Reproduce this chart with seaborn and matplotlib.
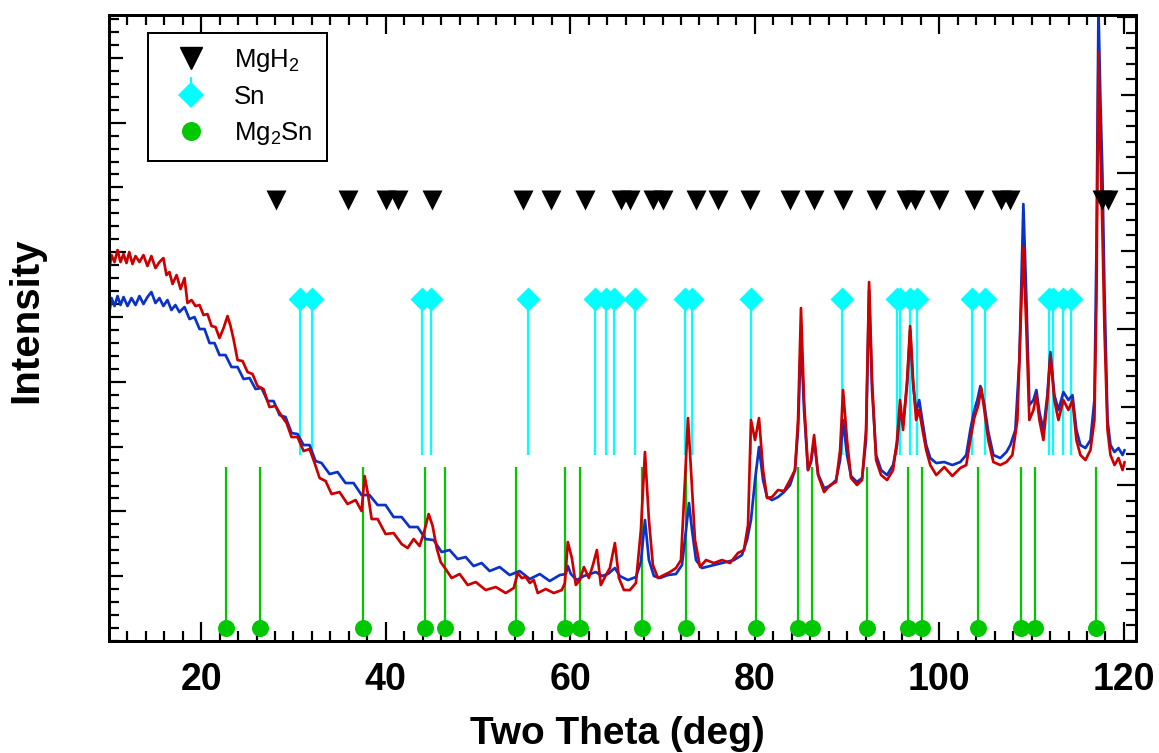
import numpy as np
import pandas as pd
import seaborn as sns
import matplotlib.pyplot as plt
from matplotlib.lines import Line2D

# patterns: two theta (deg) vs intensity (arb. units)
red_theta = [10.0, 10.28, 10.6, 10.93, 11.25, 11.58, 11.9, 12.2, 12.55, 12.88,
             13.31, 13.74, 14.17, 14.6, 15.04, 15.47, 15.9, 16.23, 16.56, 16.89,
             17.33, 17.76, 18.19, 18.51, 18.95, 19.38, 19.82, 20.25, 20.68, 21.12,
             21.55, 21.98, 22.42, 22.85, 23.18, 23.5, 23.94, 24.48, 25.02, 25.56,
             26.1, 26.75, 27.4, 28.05, 28.71, 29.25, 29.79, 30.44, 31.09, 31.74,
             32.29, 32.83, 33.48, 34.13, 34.99, 35.86, 36.73, 37.38, 37.71, 38.03,
             38.47, 39.12, 39.98, 40.85, 41.72, 42.37, 43.02, 43.67, 44.21, 44.65,
             45.08, 45.52, 45.95, 46.49, 47.14, 48.01, 48.88, 49.75, 50.83, 51.92,
             53.0, 53.87, 54.3, 54.74, 55.17, 55.61, 56.04, 56.47, 57.34, 58.21,
             59.08, 59.41, 59.73, 60.17, 60.6, 61.04, 61.47, 62.01, 62.45, 62.88,
             63.31, 63.86, 64.29, 64.83, 65.27, 65.81, 66.46, 67.11, 67.65, 68.09,
             68.52, 68.95, 69.5, 70.15, 70.8, 71.45, 71.99, 72.43, 72.75, 73.08,
             73.51, 74.06, 74.71, 75.57, 76.44, 77.31, 78.17, 78.82, 79.26, 79.58,
             80.02, 80.45, 80.89, 81.32, 81.86, 82.51, 83.16, 83.81, 84.35, 84.68,
             85.0, 85.33, 85.76, 86.09, 86.42, 86.85, 87.5, 88.15, 88.8, 89.24,
             89.56, 89.99, 90.42, 91.07, 91.62, 92.05, 92.38, 92.7, 93.14, 93.68,
             94.33, 94.98, 95.41, 95.74, 96.06, 96.5, 96.83, 97.15, 97.48, 97.81,
             98.14, 98.57, 99.01, 99.66, 100.53, 101.4, 102.26, 102.91, 103.35, 103.78,
             104.22, 104.54, 104.87, 105.3, 105.85, 106.6, 107.26, 107.91, 108.45, 108.78,
             109.1, 109.43, 109.75, 110.19, 110.51, 110.84, 111.27, 111.7, 112.03, 112.46,
             112.9, 113.44, 113.98, 114.42, 114.85, 115.28, 115.83, 116.37, 116.8, 117.02,
             117.24, 117.45, 117.67, 117.89, 118.22, 118.54, 118.98, 119.41, 119.85, 120.07]
red_counts = [369, 386, 379, 391, 379, 387, 378, 389, 377, 385,
              379, 386, 375, 385, 373, 379, 383, 366, 369, 357,
              366, 352, 363, 338, 341, 335, 336, 326, 327, 315,
              314, 303, 313, 325, 315, 302, 281, 280, 269, 267,
              255, 252, 234, 235, 225, 218, 204, 204, 190, 192,
              178, 163, 160, 147, 149, 137, 141, 130, 165, 149,
              122, 122, 107, 108, 97, 93, 102, 95, 111, 127,
              115, 93, 79, 72, 63, 67, 56, 59, 51, 54,
              48, 53, 68, 63, 64, 58, 61, 48, 52, 48,
              51, 58, 99, 83, 56, 61, 74, 63, 76, 91,
              56, 66, 73, 98, 63, 51, 51, 58, 111, 189,
              121, 76, 63, 66, 69, 73, 81, 161, 223, 171,
              101, 74, 81, 78, 81, 78, 88, 91, 116, 221,
              201, 223, 171, 143, 144, 151, 150, 161, 171, 221,
              333, 241, 171, 181, 206, 166, 149, 156, 159, 191,
              251, 201, 163, 156, 161, 211, 359, 261, 181, 166,
              161, 171, 201, 241, 211, 261, 315, 261, 221, 231,
              213, 191, 176, 166, 174, 165, 173, 176, 201, 223,
              236, 253, 231, 201, 179, 176, 179, 186, 221, 311,
              394, 311, 221, 231, 246, 221, 201, 241, 286, 241,
              221, 241, 231, 241, 201, 186, 181, 191, 221, 341,
              589, 491, 409, 311, 211, 186, 176, 183, 171, 179]

blue_theta = [10.0, 10.28, 10.6, 10.93, 11.25, 11.58, 12.01, 12.44, 12.88, 13.31,
              13.74, 14.17, 14.6, 15.04, 15.47, 15.9, 16.34, 16.77, 17.2, 17.64,
              18.19, 18.73, 19.27, 19.82, 20.36, 20.9, 21.44, 21.98, 22.63, 23.28,
              23.94, 24.59, 25.24, 25.89, 26.54, 27.19, 27.84, 28.49, 29.14, 29.79,
              30.44, 31.09, 31.74, 32.39, 33.04, 33.91, 34.78, 35.64, 36.51, 37.38,
              38.24, 39.12, 39.98, 40.85, 41.72, 42.59, 43.45, 44.32, 45.19, 46.05,
              46.92, 47.79, 48.66, 49.52, 50.39, 51.26, 52.34, 53.43, 54.51, 55.61,
              56.69, 57.77, 58.86, 59.51, 59.73, 60.06, 60.71, 61.47, 62.12, 62.77,
              63.42, 64.08, 64.83, 65.37, 66.24, 67.11, 67.65, 68.09, 68.52, 69.06,
              69.71, 70.58, 71.45, 72.1, 72.54, 72.86, 73.19, 73.62, 74.27, 75.14,
              76.0, 76.87, 77.74, 78.6, 79.15, 79.58, 80.02, 80.45, 80.89, 81.32,
              81.86, 82.51, 83.16, 83.81, 84.35, 84.68, 85.0, 85.33, 85.76, 86.09,
              86.42, 86.85, 87.5, 88.15, 88.8, 89.24, 89.56, 89.99, 90.42, 91.07,
              91.62, 92.05, 92.38, 92.7, 93.14, 93.68, 94.33, 94.98, 95.41, 95.74,
              96.06, 96.5, 96.83, 97.15, 97.48, 97.81, 98.14, 98.57, 99.01, 99.66,
              100.53, 101.4, 102.26, 102.91, 103.35, 103.78, 104.11, 104.44, 104.87, 105.3,
              105.85, 106.6, 107.26, 107.69, 108.23, 108.67, 109.1, 109.43, 109.75, 110.19,
              110.51, 110.84, 111.27, 111.7, 112.03, 112.46, 112.9, 113.44, 113.98, 114.42,
              114.85, 115.28, 115.83, 116.37, 116.8, 117.02, 117.24, 117.45, 117.67, 117.89,
              118.22, 118.54, 118.98, 119.41, 119.85, 120.07]
blue_counts = [326, 343, 335, 345, 336, 344, 335, 343, 336, 345,
               337, 344, 349, 338, 343, 335, 341, 331, 336, 329,
               334, 322, 324, 312, 312, 298, 298, 286, 286, 274,
               274, 262, 263, 252, 253, 240, 240, 226, 224, 208,
               207, 196, 196, 180, 178, 167, 169, 158, 158, 146,
               146, 136, 136, 124, 124, 114, 114, 102, 101, 89,
               91, 82, 84, 75, 78, 70, 74, 66, 70, 62,
               67, 60, 66, 67, 75, 67, 61, 65, 67, 69,
               65, 67, 73, 65, 61, 64, 79, 121, 81, 65,
               63, 66, 67, 76, 111, 138, 111, 81, 73, 75,
               77, 79, 81, 86, 101, 121, 161, 194, 161, 144,
               141, 144, 149, 156, 171, 211, 304, 231, 171, 179,
               201, 167, 153, 155, 161, 181, 221, 186, 165, 159,
               163, 201, 351, 251, 186, 171, 166, 176, 196, 231,
               216, 256, 311, 256, 229, 241, 221, 196, 183, 178,
               179, 176, 179, 186, 211, 231, 241, 255, 236, 209,
               186, 183, 189, 196, 211, 281, 437, 341, 236, 241,
               251, 229, 211, 246, 289, 246, 231, 249, 241, 246,
               211, 196, 193, 201, 241, 391, 633, 541, 466, 351,
               221, 196, 189, 193, 186, 191]

# reference reflections (deg)
mgh2_peaks = [28.06, 35.9, 39.98, 41.3, 45.05, 54.87, 57.95, 61.64, 65.54, 66.51,
              68.96, 70.05, 73.6, 76.06, 79.48, 83.86, 86.42, 89.56, 93.11, 96.36,
              97.41, 99.91, 103.77, 106.63, 107.64, 117.58, 118.23]
sn_peaks = [30.66, 32.04, 43.89, 44.94, 55.41, 62.64, 63.84, 64.7, 67.06, 72.48,
            73.24, 79.63, 89.48, 95.36, 95.71, 96.8, 97.52, 103.49, 104.93, 111.87,
            112.27, 113.42, 114.22]
mg2sn_peaks = [22.71, 26.32, 37.52, 44.29, 46.38, 54.08, 59.39, 61.09, 67.75, 72.51,
               80.16, 84.68, 86.2, 92.13, 96.57, 98.1, 104.22, 108.86, 110.39, 116.92]

mgh2_level = 441
sn_level, sn_stem_end = 342, 186
mg2sn_level, mg2sn_stem_end = 13, 174

BLUE = "#0a32c8"
RED = "#cc0000"
CYAN = "#00ffff"
GREEN = "#00c800"
PX = 0.72  # points per pixel at dpi 100

sns.set_style("ticks")
plt.rcParams['font.family'] = ['Liberation Sans', 'DejaVu Sans']
plt.rcParams['mathtext.fontset'] = 'custom'
plt.rcParams['mathtext.rm'] = 'Liberation Sans'
plt.rcParams['mathtext.it'] = 'Liberation Sans'
for key in ('text.color', 'axes.labelcolor', 'xtick.color', 'ytick.color',
            'axes.edgecolor'):
    plt.rcParams[key] = 'black'

fig = plt.figure(figsize=(11.59, 7.53), dpi=100)
ax = fig.add_axes([0.094, 0.1487, 0.8861, 0.8313])

ax.vlines(sn_peaks, sn_stem_end, sn_level, color=CYAN, lw=2.2 * PX, zorder=1)
ax.vlines(mg2sn_peaks, mg2sn_level, mg2sn_stem_end, color=GREEN, lw=2.2 * PX, zorder=1)

blue = pd.DataFrame({"theta": blue_theta, "counts": blue_counts})
red = pd.DataFrame({"theta": red_theta, "counts": red_counts})
sns.lineplot(data=blue, x="theta", y="counts", color=BLUE, lw=2.7 * PX,
             estimator=None, sort=False, ax=ax, zorder=2)
sns.lineplot(data=red, x="theta", y="counts", color=RED, lw=2.7 * PX,
             estimator=None, sort=False, ax=ax, zorder=3)

sns.scatterplot(x=mgh2_peaks, y=[mgh2_level] * len(mgh2_peaks), marker="v",
                s=(20 * PX) ** 2, color="black", linewidth=0, ax=ax, zorder=5)
sns.scatterplot(x=sn_peaks, y=[sn_level] * len(sn_peaks), marker="D",
                s=(17 * PX) ** 2, color=CYAN, linewidth=0, ax=ax, zorder=5)
sns.scatterplot(x=mg2sn_peaks, y=[mg2sn_level] * len(mg2sn_peaks), marker="o",
                s=(17 * PX) ** 2, color=GREEN, linewidth=0, ax=ax, zorder=5)

ax.set_xlim(10, 121.3)
ax.set_ylim(0, 626)
ax.set_xticks(range(20, 121, 20))
ax.set_xticks(np.arange(12, 121, 2), minor=True)
left_step = 64.8
ax.set_yticks(np.arange(1, 10) * left_step)
ax.set_yticks(np.arange(0, 626, left_step / 5), minor=True)
ax.set_yticklabels([])
ax.tick_params(axis="both", which="both", direction="in", width=2.2 * PX,
               color="black")
ax.tick_params(axis="x", which="both", top=True, bottom=True)
ax.tick_params(axis="x", which="major", length=19 * PX, pad=15,
               labelsize=27, labelcolor="black")
ax.tick_params(axis="x", which="minor", length=10 * PX)
ax.tick_params(axis="y", which="minor", length=10 * PX)
for lab in ax.get_xticklabels():
    lab.set_fontweight("bold")

ax2 = ax.twinx()
ax2.set_ylim(0, 626)
right_step = 78
ax2.set_yticks(np.arange(1, 9) * right_step)
ax2.set_yticks(np.arange(0, 626, right_step / 5), minor=True)
ax2.set_yticklabels([])
ax2.tick_params(axis="y", which="both", direction="in", width=2.2 * PX,
                color="black")
ax2.tick_params(axis="y", which="minor", length=10 * PX)

for i, t in enumerate(ax.yaxis.get_major_ticks()):
    t.tick1line.set_markersize((17 if i % 2 == 1 else 14) * PX)
for i, t in enumerate(ax2.yaxis.get_major_ticks()):
    t.tick2line.set_markersize((19 if i % 2 == 1 else 15) * PX)

for a in (ax, ax2):
    for sp in a.spines.values():
        sp.set_visible(True)
        sp.set_linewidth(3 * PX)
        sp.set_color("black")

ax.set_xlabel("Two Theta (deg)", fontsize=28, fontweight="bold", color="black")
ax.set_ylabel("Intensity", fontsize=29, fontweight="bold", color="black")
ax.xaxis.set_label_coords(0.495, -0.12)
ax.yaxis.set_label_coords(-0.062, 0.513)
ax2.set_ylabel("")

# Sn legend entry: diamond with a short stem stub above it
handles = [
    Line2D([], [], ls="none", marker="v", ms=22 * PX, color="black"),
    (Line2D([], [], ls="none", marker=2, ms=18 * PX, color=CYAN, mew=2.2 * PX),
     Line2D([], [], ls="none", marker="D", ms=18.4 * PX, color=CYAN, mew=0)),
    Line2D([], [], ls="none", marker="o", ms=19 * PX, color=GREEN, mew=0),
]
leg = ax.legend(handles, ["MgH$_2$", "Sn", "Mg$_2$Sn"], loc="upper left",
                bbox_to_anchor=(0.038, 0.971), borderaxespad=0, fontsize=18.5,
                frameon=True, fancybox=False, framealpha=1, edgecolor="black",
                handlelength=2.26, handletextpad=0.55, labelspacing=0.42,
                borderpad=0.55)
leg.get_frame().set_linewidth(2 * PX)
leg.set_zorder(10)

fig.savefig("out.png", dpi=100)
